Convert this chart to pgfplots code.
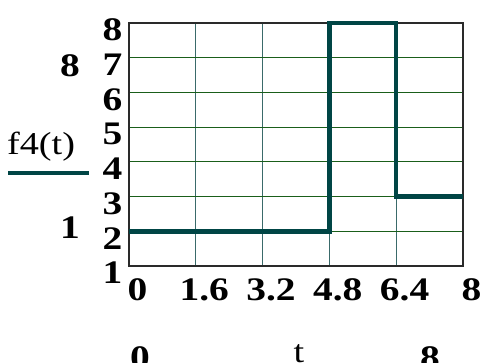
\documentclass[border=0pt]{standalone}
\usepackage{fontspec}
\setmainfont{Liberation Serif}
\usepackage{pgfplots}
\pgfplotsset{compat=1.18}

\definecolor{trace}{HTML}{004545}
\definecolor{hgrid}{HTML}{1A5E1A}
\definecolor{vgrid}{HTML}{3A6A6A}
\definecolor{frame}{HTML}{2A2A2A}

\newcommand{\bignum}{\fontsize{33}{33}\selectfont\bfseries}
\newcommand{\plainbig}{\fontsize{32}{32}\selectfont}

\begin{document}
\begin{tikzpicture}
\path[use as bounding box] (0bp,0bp) rectangle (481bp,363bp);
\begin{scope}
\clip (0bp,0bp) rectangle (481bp,363bp);
\begin{axis}[
  at={(129bp,97bp)}, anchor=south west,
  scale only axis, width=334bp, height=243bp,
  xmin=0, xmax=8, ymin=1, ymax=8,
  xtick={0,1.6,3.2,4.8,6.4,8},
  xticklabels={0,1.6,3.2,4.8,6.4,8},
  ytick={1,2,...,8},
  yticklabels={1,2,3,4,5,6,7,8},
  tick style={draw=none},
  xticklabel style={font=\bignum, xscale=1.2, anchor=north, xshift=7bp, yshift=-9bp},
  yticklabel style={font=\bignum, xscale=1.2, anchor=east, xshift=-2bp, yshift=-7bp},
  xmajorgrids, ymajorgrids,
  x grid style={draw=vgrid, line width=1.1bp},
  y grid style={draw=hgrid, line width=1.1bp},
  axis line style={draw=frame, line width=1.2bp},
  clip=false,
]
\addplot[trace, line width=4.6bp, line join=miter] coordinates {
  (0,2) (4.8,2) (4.8,8) (6.4,8) (6.4,3) (8,3)
};
\end{axis}
% range annotations and trace legend on the left
\node[font=\bignum, xscale=1.2] at (70bp,297bp) {8};
\node[font=\bignum, xscale=1.2] at (70bp,135bp) {1};
\node[font=\plainbig, xscale=1.2] at (41bp,216bp) {f4(t)};
\draw[trace, line width=4.5bp] (8bp,190bp) -- (89bp,190bp);
% horizontal range and variable name
\node[font=\bignum, xscale=1.2, anchor=base] at (140bp,-5bp) {0};
\node[font=\bignum, xscale=1.2, anchor=base] at (430bp,-5bp) {8};
\node[font=\plainbig, xscale=1.2, anchor=base] at (299bp,1bp) {t};
\end{scope}
\end{tikzpicture}
\end{document}
